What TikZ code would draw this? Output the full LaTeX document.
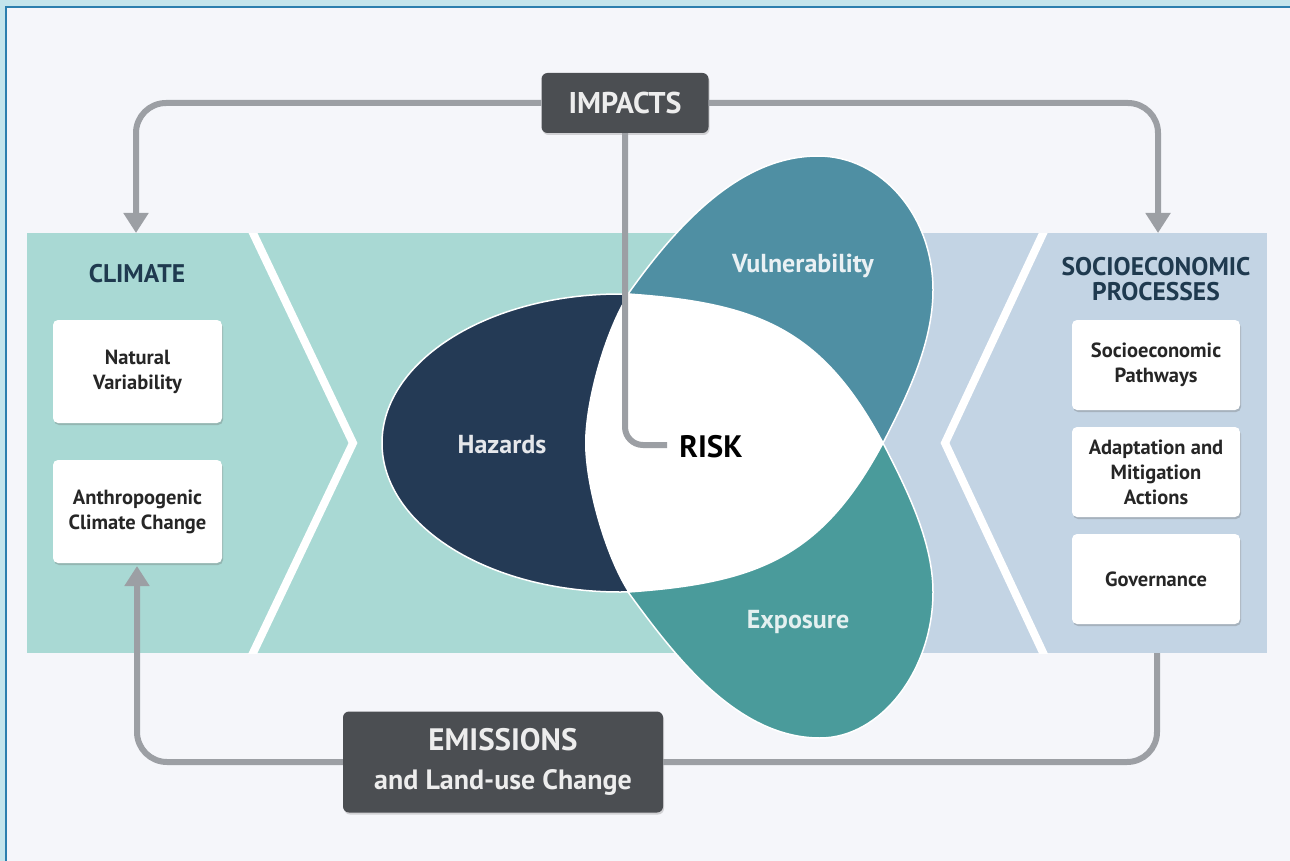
\documentclass[tikz,border=0pt]{standalone}
\usepackage{fontspec}
\setmainfont{PT Sans}
\usetikzlibrary{arrows.meta,shadows}
\definecolor{framecyan}{HTML}{C4E5EC}
\definecolor{frameline}{HTML}{2C7FAE}
\definecolor{bgc}{HTML}{F5F6FA}
\definecolor{tealband}{HTML}{A9D9D4}
\definecolor{bluegray}{HTML}{C3D4E4}
\definecolor{navyc}{HTML}{243A55}
\definecolor{vulc}{HTML}{4F8FA3}
\definecolor{expc}{HTML}{4A9B9B}
\definecolor{connc}{HTML}{9C9FA4}
\definecolor{darkbox}{HTML}{4B4E52}
\definecolor{headc}{HTML}{1F3A4F}
\definecolor{boxtext}{HTML}{262626}
\newcommand\bxfont{\bfseries\fontsize{20.5}{25}\selectfont}
\newcommand\hdfont{\bfseries\fontsize{25.5}{25.5}\selectfont}
\newcommand\lbfont{\bfseries\fontsize{26}{28}\selectfont}
\begin{document}
\begin{tikzpicture}[x=1pt,y=-1pt,
  lightbox/.style={fill=white, rounded corners=5pt, minimum width=169pt, minimum height=103pt,
    align=center, font=\bxfont, text=boxtext, inner xsep=2pt,
    drop shadow={shadow xshift=1pt, shadow yshift=-2pt, opacity=0.3, fill=black!60}},
  rbox/.style={lightbox, minimum width=168pt, minimum height=90pt},
  darkbx/.style={fill=darkbox, rounded corners=6pt, text=white!93!black, align=center,
    drop shadow={shadow xshift=1pt, shadow yshift=-2pt, opacity=0.25, fill=black!60}},
  head/.style={font=\hdfont, text=headc, align=center},
  lbl/.style={font=\lbfont},
  conn/.style={draw=connc, line width=6pt},
  tip/.style={-{Triangle[width=24pt,length=20pt]}}
]
\useasboundingbox (0,0) rectangle (1290,861);
% frame and background
\fill[framecyan] (0,0) rectangle (1290,861);
\fill[bgc] (6,7) rectangle (1290,861);
\draw[frameline, line width=1.5pt] (6,861) -- (6,7) -- (1290,7);
% band
\fill[tealband] (27,233) rectangle (800,653);
\fill[bluegray] (800,233) rectangle (1267,653);
\begin{scope}
  \clip (27,233) rectangle (1267,653);
  \draw[white, line width=8pt, line join=miter] (243,212) -- (353,443) -- (243,674);
  \draw[white, line width=8pt, line join=miter] (1053,212) -- (945,443) -- (1053,674);
\end{scope}
% Venn shapes
\filldraw[fill=navyc, draw=white, line width=1.5pt] (620,443) ellipse [x radius=238, y radius=149];
\filldraw[fill=vulc, draw=white, line width=1.5pt]
  (628,294) .. controls (675,228) and (738,156) .. (818,156)
  .. controls (881,156) and (933,215) .. (933,290)
  .. controls (933,345) and (905,400) .. (883,443)
  .. controls (822,329) and (758,303) .. (628,294) -- cycle;
\filldraw[fill=expc, draw=white, line width=1.5pt]
  (628,592) .. controls (672,652) and (735,738) .. (820,738)
  .. controls (881,738) and (933,670) .. (933,592)
  .. controls (933,540) and (905,486) .. (883,443)
  .. controls (822,557) and (758,583) .. (628,592) -- cycle;
\fill[white]
  (628,294) .. controls (758,303) and (822,329) .. (883,443)
  .. controls (822,557) and (758,583) .. (628,592)
  .. controls (605,556) and (585,486) .. (585,443)
  .. controls (585,400) and (605,330) .. (628,294) -- cycle;
% labels in Venn
\node[lbl, text=white!88!navyc] (haz) at (502,445) {Hazards};
\node[lbl, text=white!88!vulc] (vul) at (803,266) {Vulnerability};
\node[lbl, text=white!85!expc] (expo) at (798,622) {Exposure};
\node[font=\bfseries\fontsize{31}{33}\selectfont, text=black] (risk) at (711,447) {RISK};
% left panel
\node[head] (climate) at (137,274) {CLIMATE};
\node[lightbox] (natvar) at (137.5,371.5) {Natural\\Variability};
\node[lightbox] (anthro) at (137.5,511.5) {Anthropogenic\\Climate Change};
% right panel
\node[head] (socio) at (1156,279) {SOCIOECONOMIC\\PROCESSES};
\node[rbox] (sp) at (1156,365) {Socioeconomic\\Pathways};
\node[rbox] (ama) at (1156,472) {Adaptation and\\Mitigation\\Actions};
\node[rbox] (gov) at (1156,579) {Governance};
% dark boxes
\node[darkbx, minimum width=167pt, minimum height=60pt, font=\bfseries\fontsize{30}{32}\selectfont] (impacts) at (625,103) {IMPACTS};
\node[darkbx, minimum width=320pt, minimum height=101pt, font=\bfseries\fontsize{28}{39}\selectfont] (emissions) at (503,762) {{\fontsize{31}{39}\selectfont EMISSIONS}\\and Land-use Change};
% connector ends
\coordinate (climIn) at (136,233);
\coordinate (socIn) at (1158,233);
\coordinate (socOut) at (1157,653);
\coordinate (anthroIn) at (137,566);
\coordinate (riskIn) at (667,445);
% connectors
\draw[conn, tip, rounded corners=30pt] (impacts.west) -| (climIn);
\draw[conn, tip, rounded corners=30pt] (impacts.east) -| (socIn);
\draw[conn, rounded corners=18pt] (impacts.south) |- (riskIn);
\draw[conn, rounded corners=30pt] (socOut) |- (emissions.east);
\draw[conn, tip, rounded corners=30pt] (emissions.west) -| (anthroIn);
\end{tikzpicture}
\end{document}
